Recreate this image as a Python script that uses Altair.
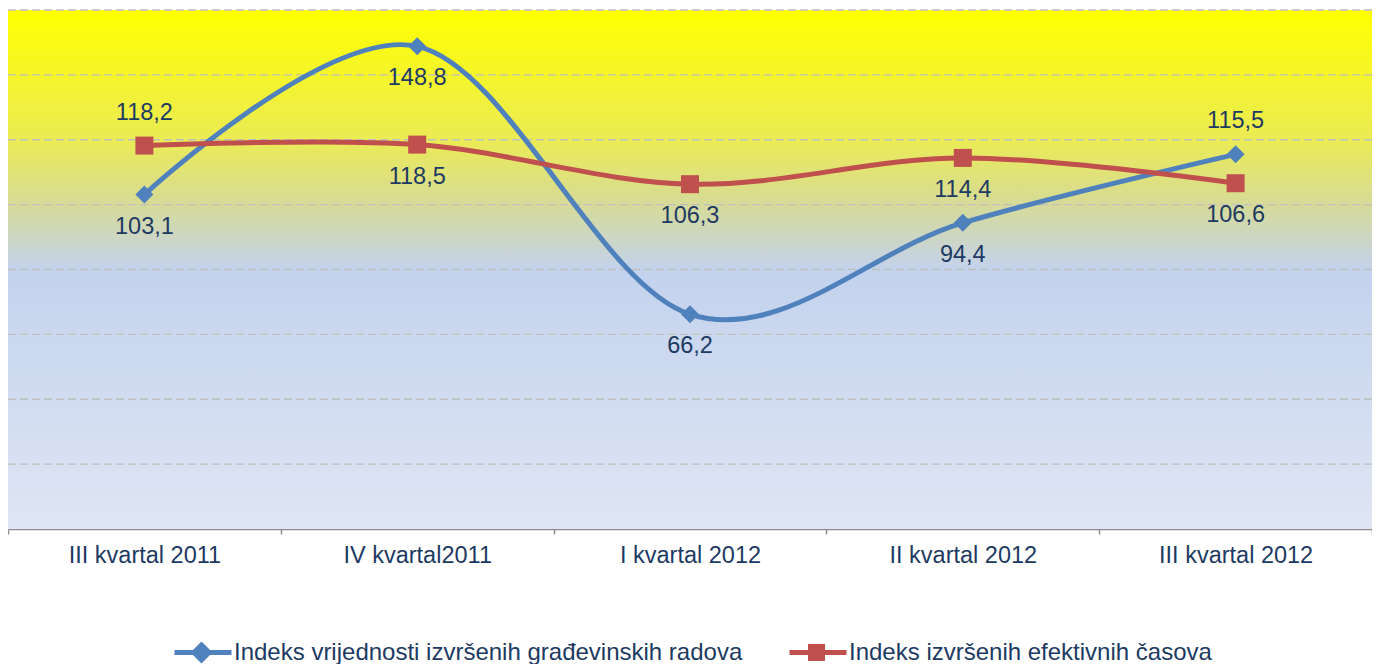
import altair as alt
import pandas as pd

CATEGORIES = ["III kvartal 2011", "IV kvartal2011", "I kvartal 2012", "II kvartal 2012", "III kvartal 2012"]
SERIES_A = "Indeks vrijednosti izvršenih građevinskih radova"
SERIES_B = "Indeks izvršenih efektivnih časova"
VALUES_A = [103.1, 148.8, 66.2, 94.4, 115.5]
VALUES_B = [118.2, 118.5, 106.3, 114.4, 106.6]
SIDE_A = ["below", "below", "below", "below", "above"]
SIDE_B = ["above", "below", "below", "below", "below"]
GRID = [20, 40, 60, 80, 100, 120, 140, 160]

FONT = "Liberation Sans"
TEXT = "#1D3A63"
BLUE = "#4F81BD"
RED = "#C0504D"


def frame(series, values, side):
    return pd.DataFrame({
        "cat": CATEGORIES,
        "series": series,
        "value": values,
        "label": [f"{v:.1f}".replace(".", ",") for v in values],
        "side": side,
    })


dfa = frame(SERIES_A, VALUES_A, SIDE_A)
dfb = frame(SERIES_B, VALUES_B, SIDE_B)

x_axis = alt.Axis(
    title=None, labelAngle=0, labelFont=FONT, labelFontSize=23.5, labelColor=TEXT,
    labelPadding=9, tickBand="extent", ticks=True, tickSize=5, tickColor="#8C8C8C",
    tickWidth=1.5, domainColor="#8C8C8C", domainWidth=1.5, grid=False, labelLimit=400,
)
x_enc = alt.X("cat:N", sort=CATEGORIES,
              scale=alt.Scale(type="band", paddingInner=0, paddingOuter=0), axis=x_axis)
y_scale = alt.Scale(domain=[0, 160], nice=False, zero=True)
y_enc = alt.Y("value:Q", scale=y_scale, axis=None)

gradient = alt.LinearGradient(
    gradient="linear",
    stops=[
        alt.GradientStop(offset=0.0, color="#FFFF00"),
        alt.GradientStop(offset=0.25, color="#EBEB55"),
        alt.GradientStop(offset=0.37, color="#D7DB95"),
        alt.GradientStop(offset=0.5, color="#C3D2ED"),
        alt.GradientStop(offset=1.0, color="#DFE6F4"),
    ],
    x1=0, x2=0, y1=0, y2=1,
)

bg = alt.Chart(alt.Data(values=[{}])).mark_rect(color=gradient).encode(
    x=alt.value(0), x2=alt.value("width"), y=alt.value(0), y2=alt.value("height")
)

grid = alt.Chart(pd.DataFrame({"g": GRID})).mark_rule(
    color="#BFBFBF", strokeWidth=1.3, strokeDash=[8, 4]
).encode(y=alt.Y("g:Q", scale=y_scale, axis=None))

PATH_A = "M-0.9,0L1,0M-0.25,0L0,-0.25L0.25,0L0,0.25Z"
PATH_B = "M-0.9,0L1,0M-0.2,-0.2L0.2,-0.2L0.2,0.2L-0.2,0.2Z"


def legend(x, path, color):
    return alt.Legend(
        orient="none", legendX=x, legendY=610, title=None, symbolType=path,
        symbolSize=3600, symbolStrokeWidth=5, symbolFillColor=color,
        symbolStrokeColor=color, symbolOpacity=1, labelFont=FONT, labelFontSize=24,
        labelColor=TEXT, labelOffset=0, labelLimit=1000, padding=0,
    )


def series_layers(df, name, color, shape, path, lx):
    base = alt.Chart(df)
    line = base.mark_line(interpolate="cardinal", strokeWidth=5).encode(
        x=x_enc, y=y_enc,
        color=alt.Color("series:N", scale=alt.Scale(domain=[name], range=[color]),
                        legend=legend(lx, path, color)),
    )
    pts = base.mark_point(shape=shape, filled=True, size=324, color=color, opacity=1).encode(
        x=x_enc, y=y_enc)
    below = base.transform_filter(alt.datum.side == "below").mark_text(
        dy=32, fontSize=23.5, font=FONT, color=TEXT).encode(x=x_enc, y=y_enc, text="label:N")
    above = base.transform_filter(alt.datum.side == "above").mark_text(
        dy=-33, fontSize=23.5, font=FONT, color=TEXT).encode(x=x_enc, y=y_enc, text="label:N")
    return line, pts, below, above


la, pa, ba, aa = series_layers(dfa, SERIES_A, BLUE, "diamond", PATH_A, 161)
lb, pb, bb, ab = series_layers(dfb, SERIES_B, RED, "square", PATH_B, 776)

chart = alt.layer(bg, grid, la, pa, lb, pb, ba, aa, bb, ab).resolve_scale(
    color="independent"
).properties(
    width=1364, height=519,
    autosize=alt.AutoSizeParams(type="none"),
    padding={"left": 0, "top": 2, "right": 0, "bottom": 135},
).configure_view(stroke=None)

chart.save("out.html", embed_options={"renderer": "svg", "actions": False})
